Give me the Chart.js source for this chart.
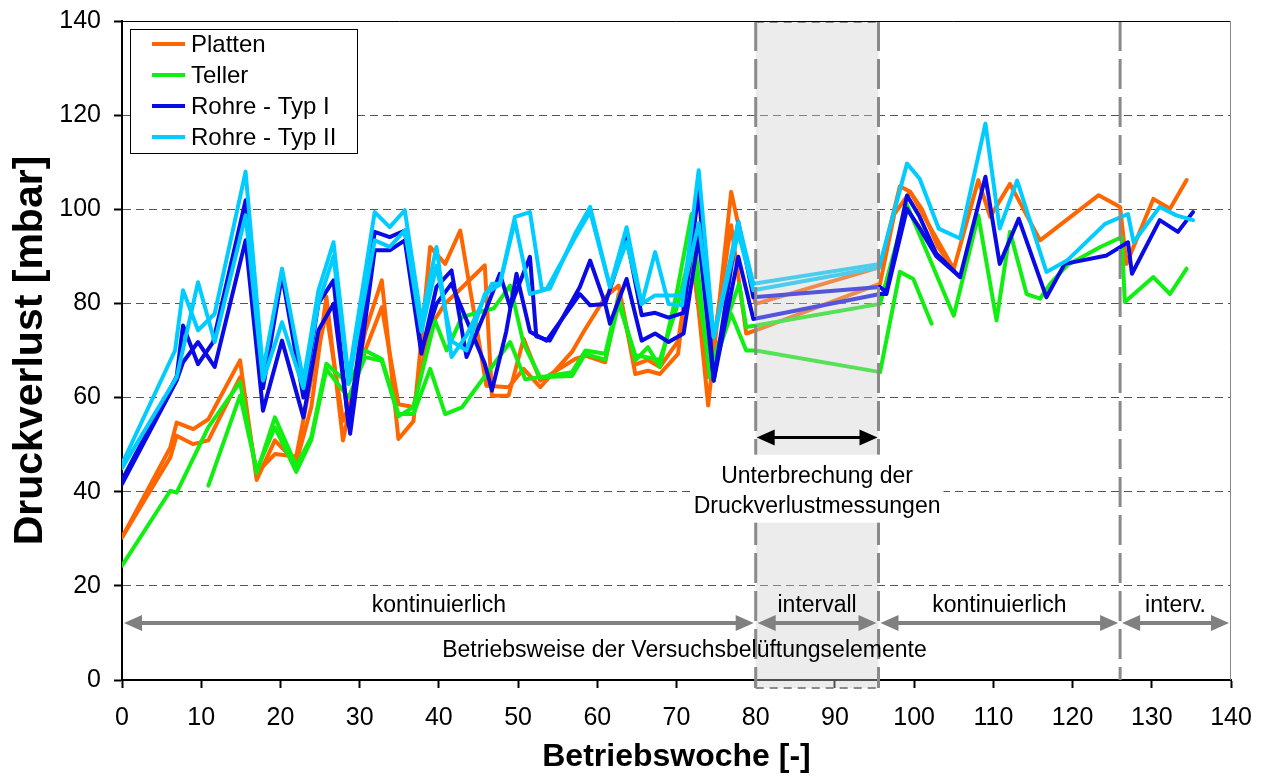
<!DOCTYPE html>
<html lang="de">
<head>
<meta charset="utf-8">
<title>Druckverlust</title>
<script src="https://cdn.jsdelivr.net/npm/chart.js@4.4.1/dist/chart.umd.min.js"></script>
<style>
  html, body { margin: 0; padding: 0; background: #fff; }
  #wrap { width: 1265px; height: 778px; }
</style>
</head>
<body>
<div id="wrap"><canvas id="chart" width="1265" height="778"></canvas></div>
<script>
// Messwerte: Betriebswoche / Druckverlust [mbar], je Elementtyp zwei Strassen
const plattenWochenA = [0, 6.1, 6.9, 9.0, 10.9, 14.9, 17.0, 19.3, 22.0, 23.9, 25.8, 27.9, 30.7, 32.8, 34.9, 36.8, 38.9, 40.8, 42.7, 46.0, 48.8, 50.7, 52.8, 56.8, 58.5, 61.0, 62.7, 64.8, 66.4, 67.9, 70.2, 71.9, 74.0, 76.9, 80.0, 95.7, 98.2, 99.5, 105.0, 108.1, 109.6, 112.1, 115.9, 123.3, 126.0, 126.8, 130.2, 132.3, 134.4];
const plattenA = [30.3, 49.4, 54.7, 53.3, 55.4, 67.9, 42.5, 50.9, 46.2, 58.0, 81.4, 50.9, 74.0, 84.9, 51.2, 55.0, 92.0, 88.4, 95.5, 62.5, 62.2, 66.1, 62.2, 69.7, 74.6, 81.3, 83.8, 65.0, 65.7, 65.0, 69.3, 93.8, 58.3, 103.7, 79.9, 87.7, 104.9, 103.7, 87.3, 106.2, 98.4, 105.4, 93.4, 103.0, 100.5, 88.4, 102.2, 100.1, 106.2];
const plattenWochenB = [0, 6.1, 6.9, 9.0, 10.9, 14.9, 17.0, 19.3, 22.0, 23.9, 25.8, 27.9, 28.6, 30.7, 32.8, 34.9, 36.8, 38.9, 40.8, 42.7, 45.8, 46.7, 48.8, 50.7, 52.8, 57.2, 58.5, 61.0, 62.7, 64.8, 66.4, 67.9, 70.2, 71.9, 74.0, 76.9, 78.8, 80.0, 95.7, 97.5, 99.5, 101.0, 103.0, 105.0];
const plattenB = [30.3, 47.3, 51.9, 50.1, 50.9, 64.3, 44.0, 48.0, 47.5, 64.0, 78.0, 55.0, 58.0, 70.0, 79.2, 58.6, 58.0, 75.0, 80.0, 83.0, 88.1, 60.4, 60.4, 72.5, 63.6, 68.2, 68.9, 67.5, 82.0, 67.0, 68.0, 66.5, 72.0, 90.0, 64.3, 96.6, 73.6, 74.3, 84.2, 99.0, 103.7, 100.0, 92.0, 87.3];

const tellerWochenA = [0, 6.1, 6.9, 10.9, 14.9, 17.0, 19.3, 22.0, 23.9, 25.8, 28.6, 30.7, 32.8, 34.9, 36.8, 38.9, 40.8, 42.9, 49.0, 50.9, 52.8, 56.8, 58.5, 61.0, 62.7, 64.8, 66.4, 67.9, 70.0, 71.9, 74.2, 76.9, 78.8, 80.0, 95.7, 98.2, 99.9, 102.2];
const tellerA = [24.3, 40.2, 39.8, 53.7, 63.3, 44.0, 55.8, 45.5, 51.6, 67.2, 62.9, 70.0, 68.2, 56.5, 56.5, 66.1, 56.5, 57.9, 71.8, 63.9, 64.3, 65.4, 70.0, 69.3, 81.3, 67.9, 70.7, 66.5, 82.0, 99.0, 64.3, 77.8, 70.0, 70.0, 65.4, 86.7, 85.2, 75.7];
const tellerWochenB = [10.9, 14.9, 17.0, 19.3, 22.0, 23.9, 25.8, 28.6, 30.7, 32.8, 34.9, 36.8, 39.5, 41.0, 42.9, 45.8, 46.9, 49.0, 50.7, 52.8, 56.8, 58.5, 61.0, 62.7, 64.8, 66.4, 67.9, 70.2, 71.9, 74.2, 77.9, 78.8, 80.0, 95.7, 99.1, 105.0, 108.1, 110.4, 112.1, 114.2, 115.9, 117.2, 119.3, 123.5, 126.2, 126.6, 130.2, 132.3, 134.4];
const tellerB = [41.3, 60.4, 44.5, 53.7, 44.2, 51.0, 66.0, 60.0, 68.6, 67.8, 56.0, 58.0, 76.4, 70.0, 77.1, 78.5, 78.9, 83.8, 71.4, 64.3, 64.6, 69.3, 68.0, 80.0, 69.0, 68.5, 68.0, 80.0, 92.0, 66.0, 84.2, 75.0, 75.3, 79.9, 100.9, 77.4, 98.7, 76.4, 95.2, 82.0, 81.0, 84.2, 88.1, 92.0, 94.1, 80.3, 85.6, 82.0, 87.4];

const rohr1WochenA = [0, 6.9, 7.7, 9.6, 11.7, 15.6, 17.8, 20.2, 22.9, 24.8, 26.7, 28.8, 31.9, 33.8, 35.7, 37.8, 39.7, 41.6, 43.5, 45.8, 47.7, 49.0, 51.5, 52.3, 54.0, 57.8, 59.1, 61.0, 63.7, 65.6, 67.3, 69.0, 70.9, 72.8, 74.7, 77.8, 79.7, 95.7, 96.5, 99.1, 100.7, 102.8, 105.8, 109.0, 110.8, 113.2, 116.7, 119.0, 124.3, 127.0, 127.5, 131.0, 133.3, 135.2];
const rohr1A = [41.6, 63.6, 67.5, 71.8, 66.5, 93.4, 57.2, 72.1, 55.8, 74.3, 79.9, 52.3, 91.3, 91.3, 93.4, 69.3, 83.5, 87.0, 68.6, 78.0, 86.3, 79.2, 89.9, 73.0, 72.1, 83.5, 89.1, 79.9, 94.0, 77.5, 78.0, 77.0, 78.0, 104.0, 63.6, 97.3, 81.3, 83.5, 82.4, 102.9, 98.4, 90.6, 85.6, 106.9, 88.4, 98.0, 81.3, 88.4, 90.2, 93.0, 86.3, 97.7, 95.2, 99.4];
const rohr1WochenB = [0, 6.9, 7.7, 9.6, 11.5, 15.6, 17.8, 20.2, 22.9, 24.8, 26.7, 28.6, 31.9, 33.8, 35.7, 37.8, 39.7, 41.6, 45.8, 46.7, 48.5, 49.8, 51.5, 53.6, 57.8, 59.1, 61.0, 61.6, 63.7, 65.6, 67.3, 69.0, 70.9, 72.8, 74.7, 77.8, 79.7, 95.7, 96.5, 99.1, 100.7, 102.8, 105.8];
const rohr1B = [42.5, 64.5, 75.3, 67.1, 71.8, 101.9, 62.0, 86.0, 60.0, 80.0, 84.9, 54.0, 95.2, 94.1, 95.5, 70.0, 79.9, 84.2, 67.2, 61.5, 74.0, 86.3, 74.0, 72.1, 82.0, 79.6, 79.9, 75.7, 85.2, 72.1, 73.6, 71.8, 73.6, 94.1, 63.6, 89.9, 76.7, 82.0, 82.0, 100.1, 96.0, 90.0, 85.6];

const rohr2WochenA = [0, 6.7, 7.7, 9.6, 11.7, 15.6, 17.8, 20.2, 22.9, 24.8, 26.7, 28.6, 31.9, 33.8, 35.7, 37.8, 39.7, 41.6, 43.5, 45.8, 46.7, 47.7, 49.6, 51.5, 53.0, 54.0, 57.2, 59.1, 61.6, 63.7, 65.6, 67.3, 69.0, 70.7, 72.8, 74.7, 77.8, 79.7, 95.7, 99.1, 100.7, 103.1, 105.8, 109.0, 110.8, 113.0, 116.7, 119.3, 124.1, 127.0, 127.7, 131.0, 133.1, 135.2];
const rohr2A = [45.9, 70.0, 82.8, 74.3, 77.8, 108.0, 65.7, 87.4, 63.6, 82.8, 93.0, 64.3, 99.4, 96.2, 99.8, 76.4, 92.0, 68.6, 73.2, 81.3, 84.2, 84.2, 98.4, 99.4, 83.0, 83.1, 94.8, 100.5, 83.5, 96.2, 79.9, 90.9, 79.9, 79.6, 108.3, 72.8, 97.3, 84.2, 88.4, 109.7, 106.5, 95.9, 93.8, 118.2, 95.9, 106.1, 86.7, 89.1, 96.9, 99.0, 93.0, 100.5, 98.7, 97.7];
const rohr2WochenB = [0, 6.9, 9.6, 11.7, 15.6, 17.8, 20.2, 22.9, 24.8, 26.7, 28.6, 31.9, 33.8, 35.7, 37.8, 39.7, 41.6, 43.5, 45.8, 47.7, 49.6, 51.5, 53.6, 57.2, 59.1, 61.6, 63.7, 65.6, 67.3, 69.0, 70.7, 72.8, 74.7, 77.8, 79.7, 95.7];
const rohr2B = [45.0, 64.3, 84.5, 71.8, 98.7, 63.6, 76.0, 62.0, 80.0, 90.0, 63.0, 93.4, 92.0, 95.5, 74.0, 88.0, 72.0, 70.0, 82.0, 84.0, 97.5, 82.0, 83.0, 94.0, 99.5, 83.5, 93.0, 79.9, 81.7, 81.7, 81.7, 97.0, 72.8, 95.0, 82.8, 87.7];

// Betriebsweise-Abschnitte (Wochen) und Achsen-Ticks
const betriebsPhasen = [
  { von: 0, bis: 80, text: 'kontinuierlich' },
  { von: 80, bis: 95.5, text: 'intervall' },
  { von: 95.5, bis: 126, text: 'kontinuierlich' },
  { von: 126, bis: 140, text: 'interv.' }
];
const unterbrechung = [80, 95.5];
const xTicks = [0, 10, 20, 30, 40, 50, 60, 70, 80, 90, 100, 110, 120, 130, 140];
const yTicks = [0, 20, 40, 60, 80, 100, 120, 140];

const FONT = '"Liberation Sans", Arial, Helvetica, sans-serif';
const pts = (w, v) => w.map((x, i) => ({ x, y: v[i] }));

const serie = (label, color, w, v, order) => ({
  label, data: pts(w, v), borderColor: color, backgroundColor: color,
  borderWidth: 4, pointRadius: 0, tension: 0, fill: false, order,
  borderJoinStyle: 'round', borderCapStyle: 'round'
});

const datasets = [
  serie('Platten', '#FF6600', plattenWochenA, plattenA, 4),
  serie('Platten', '#FF6600', plattenWochenB, plattenB, 4),
  serie('Teller', '#11EE11', tellerWochenA, tellerA, 3),
  serie('Teller', '#11EE11', tellerWochenB, tellerB, 3),
  serie('Rohre - Typ I', '#0A0AE6', rohr1WochenA, rohr1A, 2),
  serie('Rohre - Typ I', '#0A0AE6', rohr1WochenB, rohr1B, 2),
  serie('Rohre - Typ II', '#00CCFF', rohr2WochenA, rohr2A, 1),
  serie('Rohre - Typ II', '#00CCFF', rohr2WochenB, rohr2B, 1)
];

function pfeil(ctx, x1, x2, y, color, lw, hl, hw) {
  ctx.save();
  ctx.strokeStyle = color; ctx.fillStyle = color; ctx.lineWidth = lw;
  ctx.beginPath(); ctx.moveTo(x1 + hl - 2, y); ctx.lineTo(x2 - hl + 2, y); ctx.stroke();
  ctx.beginPath(); ctx.moveTo(x1, y); ctx.lineTo(x1 + hl, y - hw / 2); ctx.lineTo(x1 + hl, y + hw / 2); ctx.closePath(); ctx.fill();
  ctx.beginPath(); ctx.moveTo(x2, y); ctx.lineTo(x2 - hl, y - hw / 2); ctx.lineTo(x2 - hl, y + hw / 2); ctx.closePath(); ctx.fill();
  ctx.restore();
}

const overlay = {
  id: 'overlay',
  afterDatasetsDraw(chart) {
    const { ctx, chartArea: ca, scales: { x, y } } = chart;
    const gx1 = x.getPixelForValue(unterbrechung[0]);
    const gx2 = x.getPixelForValue(unterbrechung[1]);
    ctx.save();

    // Unterbrechungsbereich
    ctx.fillStyle = 'rgba(205,205,205,0.38)';
    ctx.fillRect(gx1, ca.top, gx2 - gx1, ca.bottom - ca.top + 8);
    ctx.strokeStyle = '#8a8a8a';
    ctx.lineWidth = 3;
    ctx.setLineDash([30, 8]);
    ctx.beginPath();
    ctx.moveTo(gx1, ca.top); ctx.lineTo(gx1, ca.bottom + 8);
    ctx.moveTo(gx2, ca.top); ctx.lineTo(gx2, ca.bottom + 8);
    const gx3 = x.getPixelForValue(betriebsPhasen[3].von);
    ctx.moveTo(gx3, ca.top); ctx.lineTo(gx3, ca.bottom);
    ctx.stroke();
    ctx.lineWidth = 2;
    ctx.setLineDash([8, 6]);
    ctx.beginPath();
    ctx.moveTo(gx1, ca.top + 1); ctx.lineTo(gx2, ca.top + 1);
    ctx.moveTo(gx1, ca.bottom + 8); ctx.lineTo(gx2, ca.bottom + 8);
    ctx.stroke();
    ctx.setLineDash([]);

    // Beschriftung der Unterbrechung
    ctx.font = '23px ' + FONT;
    const zeilen = ['Unterbrechung der', 'Druckverlustmessungen'];
    const mx = (gx1 + gx2) / 2;
    const ty = y.getPixelForValue(43.2);
    const bw = Math.max(...zeilen.map(z => ctx.measureText(z).width)) + 6;
    ctx.fillStyle = '#fff';
    ctx.fillRect(mx - bw / 2, ty - 22, bw, 68);
    ctx.fillStyle = '#000';
    ctx.textAlign = 'center';
    ctx.textBaseline = 'middle';
    ctx.fillText(zeilen[0], mx, ty);
    ctx.fillText(zeilen[1], mx, ty + 30);

    pfeil(ctx, gx1 + 1, gx2 - 1, y.getPixelForValue(51.5), '#000', 3, 18, 16);

    // Betriebsweise
    const ay = y.getPixelForValue(12.1);
    betriebsPhasen.forEach(p => {
      const a = x.getPixelForValue(p.von) + 2;
      const b = x.getPixelForValue(p.bis) - 2;
      pfeil(ctx, a, b, ay, '#808080', 4, 18, 16);
      ctx.fillStyle = '#000';
      ctx.fillText(p.text, (a + b) / 2, ay - 17);
    });
    ctx.fillText('Betriebsweise der Versuchsbelüftungselemente', x.getPixelForValue(71), ay + 28);

    // Rahmen oben/rechts
    ctx.lineWidth = 1;
    ctx.strokeStyle = '#000';
    ctx.beginPath(); ctx.moveTo(ca.left, ca.top + 0.5); ctx.lineTo(ca.right, ca.top + 0.5); ctx.stroke();
    ctx.strokeStyle = '#888';
    ctx.beginPath(); ctx.moveTo(ca.right - 0.5, ca.top); ctx.lineTo(ca.right - 0.5, ca.bottom); ctx.stroke();

    // Legende
    const eintraege = [];
    chart.data.datasets.forEach(d => {
      if (!eintraege.find(e => e.label === d.label)) eintraege.push({ label: d.label, color: d.borderColor });
    });
    const lx = ca.left + 8, ly = ca.top + 8;
    ctx.fillStyle = '#fff';
    ctx.fillRect(lx, ly, 227, 124);
    ctx.strokeStyle = '#000';
    ctx.lineWidth = 1;
    ctx.strokeRect(lx + 0.5, ly + 0.5, 227, 124);
    ctx.textAlign = 'left';
    ctx.font = '24px ' + FONT;
    eintraege.forEach((e, i) => {
      const ry = ly + 15 + i * 31;
      ctx.strokeStyle = e.color;
      ctx.lineWidth = 4;
      ctx.beginPath(); ctx.moveTo(lx + 22, ry); ctx.lineTo(lx + 55, ry); ctx.stroke();
      ctx.fillStyle = '#000';
      ctx.fillText(e.label, lx + 61, ry + 1);
    });
    ctx.restore();
  }
};

new Chart(document.getElementById('chart'), {
  type: 'line',
  data: { datasets },
  options: {
    responsive: false,
    devicePixelRatio: 1,
    animation: false,
    events: [],
    layout: { padding: { top: 21, right: 34, left: 0, bottom: 0 } },
    plugins: { legend: { display: false }, tooltip: { enabled: false } },
    scales: {
      x: {
        type: 'linear', min: 0, max: 140,
        afterBuildTicks: s => { s.ticks = xTicks.map(v => ({ value: v })); },
        afterFit: s => { s.height = 98; s.paddingLeft = 0; s.paddingRight = 0; },
        ticks: { color: '#000', font: { family: FONT, size: 25 }, padding: 15, maxRotation: 0 },
        grid: { drawOnChartArea: false, drawTicks: true, tickLength: 8, tickColor: '#000', tickWidth: 2 },
        border: { color: '#000', width: 2 },
        title: { display: true, text: 'Betriebswoche [-]', color: '#000', font: { family: FONT, size: 32, weight: 'bold' }, padding: { top: 0, bottom: 2 } }
      },
      y: {
        min: 0, max: 140,
        afterBuildTicks: s => { s.ticks = yTicks.map(v => ({ value: v })); },
        afterFit: s => { s.width = 122; s.paddingTop = 0; s.paddingBottom = 0; },
        ticks: { color: '#000', font: { family: FONT, size: 25 }, padding: 13 },
        grid: {
          color: c => (c.tick && (c.tick.value === 0 || c.tick.value === 140)) ? 'rgba(0,0,0,0)' : '#555',
          lineWidth: 1, tickLength: 8, tickColor: '#000', tickWidth: 2
        },
        border: { color: '#000', width: 2, dash: [8, 5] },
        title: { display: true, text: 'Druckverlust [mbar]', color: '#000', font: { family: FONT, size: 41, weight: 'bold' }, padding: { top: 6, bottom: 0 } }
      }
    }
  },
  plugins: [overlay]
});
</script>
</body>
</html>
